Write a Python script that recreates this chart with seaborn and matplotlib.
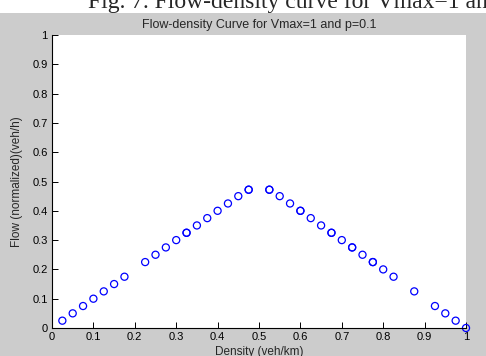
import matplotlib
matplotlib.use("Agg")
import matplotlib.pyplot as plt
import seaborn as sns
import pandas as pd
from matplotlib.patches import Rectangle

density = [0.025, 0.05, 0.075, 0.1, 0.125, 0.15, 0.175, 0.225, 0.25, 0.275, 0.3,
           0.325, 0.325, 0.35, 0.375, 0.4, 0.425, 0.45, 0.475, 0.475,
           0.525, 0.525, 0.55, 0.575, 0.6, 0.6, 0.625, 0.65, 0.675, 0.675, 0.7,
           0.725, 0.725, 0.75, 0.775, 0.775, 0.8, 0.825, 0.875, 0.925, 0.95, 0.975, 1.0]
flow = [0.025, 0.05, 0.075, 0.1, 0.125, 0.15, 0.175, 0.225, 0.25, 0.275, 0.3,
        0.325, 0.325, 0.35, 0.375, 0.4, 0.425, 0.45, 0.472, 0.472,
        0.472, 0.472, 0.45, 0.425, 0.4, 0.4, 0.375, 0.35, 0.325, 0.325, 0.3,
        0.275, 0.275, 0.25, 0.225, 0.225, 0.2, 0.175, 0.125, 0.075, 0.05, 0.025, 0.0]
ticks = [0, 0.1, 0.2, 0.3, 0.4, 0.5, 0.6, 0.7, 0.8, 0.9, 1]
tick_labels = ["0", "0.1", "0.2", "0.3", "0.4", "0.5", "0.6", "0.7", "0.8", "0.9", "1"]

df = pd.DataFrame({"Density": density, "Flow": flow})

sns.set_style("white")
plt.rcParams["font.family"] = ["Liberation Sans", "DejaVu Sans"]

W, H = 486, 356
fig = plt.figure(figsize=(W / 100, H / 100), dpi=100, facecolor="#cccccc")
fig.patches.append(Rectangle((0, 1 - 13 / H), 1, 13 / H, transform=fig.transFigure,
                             facecolor="white", edgecolor="none", zorder=0))
fig.text(88 / W, 1 - 8 / H, "Fig. 7. Flow-density curve for Vmax=1 and p=0.1",
         fontsize=17, family=["Liberation Serif", "DejaVu Serif"], va="baseline", ha="left")

ax = fig.add_axes([52 / W, 1 - 328 / H, (466 - 52) / W, (328 - 35) / H])
ax.set_facecolor("white")
sns.scatterplot(data=df, x="Density", y="Flow", ax=ax, marker="o", s=26,
                facecolor="none", edgecolor="#0000ff", linewidth=0.9, clip_on=False)
ax.set_xlim(0, 1)
ax.set_ylim(0, 1)
ax.set_xticks(ticks)
ax.set_xticklabels(tick_labels)
ax.set_yticks(ticks)
ax.set_yticklabels(tick_labels)
ax.tick_params(direction="in", length=4, width=0.7, labelsize=8, colors="black", pad=3,
               bottom=True, left=True, top=False, right=False)
for s in ["top", "right"]:
    ax.spines[s].set_visible(False)
for s in ["left", "bottom"]:
    ax.spines[s].set_color("black")
    ax.spines[s].set_linewidth(0.8)
ax.set_title("Flow-density Curve for Vmax=1 and p=0.1", fontsize=9, pad=5)
ax.set_xlabel("Density (veh/km)", fontsize=8.5, labelpad=3)
ax.set_ylabel("Flow (normalized)(veh/h)", fontsize=8.5, labelpad=7)

fig.savefig("out.png", dpi=100, facecolor=fig.get_facecolor())
